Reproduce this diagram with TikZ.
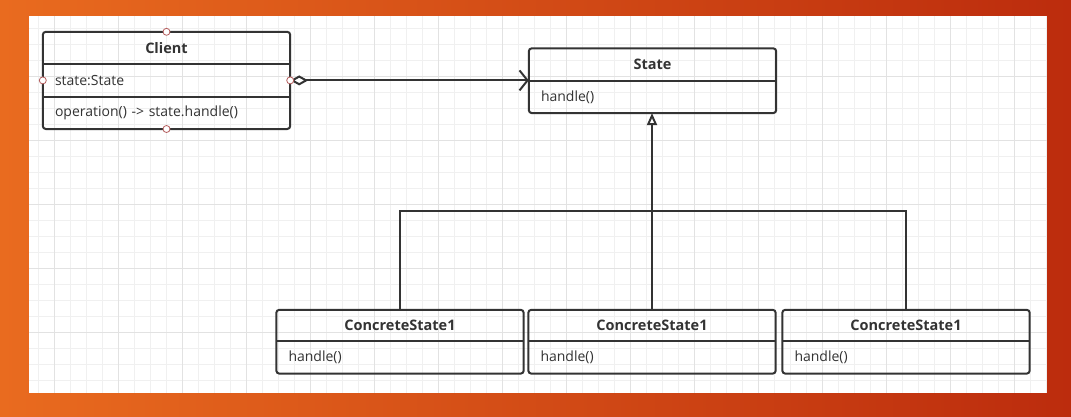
\documentclass[tikz,border=0pt]{standalone}
\usepackage{fontspec}
\setmainfont{Open Sans}
\usetikzlibrary{positioning,arrows.meta}

\definecolor{ink}{HTML}{333333}
\definecolor{bgorange}{HTML}{E96B1F}
\definecolor{bgred}{HTML}{BC2C0D}
\definecolor{gridminor}{HTML}{F0F0F0}
\definecolor{gridmajor}{HTML}{E2E2E2}
\definecolor{handlered}{HTML}{B45C5C}

\begin{document}
\begin{tikzpicture}[x=1pt, y=-1pt,
part/.style={minimum width=247pt, minimum height=32pt, inner sep=0pt, text=ink},
title/.style={part, font=\bfseries\fontsize{14.5}{16}\selectfont},
member/.style={part, font=\fontsize{14}{16}\selectfont, text width=223pt, inner xsep=12pt, align=left},
box/.style={draw=ink, line width=2pt, rounded corners=3pt},
divider/.style={draw=ink, line width=1.8pt},
conn/.style={draw=ink, line width=2pt},
handle/.style={circle, draw=handlered, fill=white, inner sep=0pt, minimum size=7pt, line width=0.8pt},
gridline/.style={draw=gridminor, line width=0.8pt},
gridbold/.style={draw=gridmajor, line width=0.9pt}]

%% local variables
\def \left {29}
\def \right {1047}
\def \top {16}
\def \bottom {393}

%% background and canvas
\shade[left color=bgorange, right color=bgred] (0,0) rectangle (1071,416);
\fill[white] (\left,\top) rectangle (\right,\bottom);

%% grid
\begin{scope}
\clip (\left,\top) rectangle (\right,\bottom);
\foreach \i in {0,...,65}
      \draw[gridline] ({6.7+16*\i},\top) -- ({6.7+16*\i},\bottom);
\foreach \j in {0,...,24}
      \draw[gridline] (\left,{12+16*\j}) -- (\right,{12+16*\j});
\foreach \i in {0,...,16}
      \draw[gridbold] ({54.7+64*\i},\top) -- ({54.7+64*\i},\bottom);
\foreach \j in {0,...,6}
      \draw[gridbold] (\left,{12+64*\j}) -- (\right,{12+64*\j});
\end{scope}

%% client class
\node[title] (client-t) at (166.5,48) {Client};
\node[member, below=0pt of client-t] (client-a) {state:State};
\node[member, below=0pt of client-a] (client-o) {operation() -> state.handle()};
\draw[box] (client-t.north west) rectangle (client-o.south east);
\draw[divider] (client-t.south west) -- (client-t.south east);
\draw[divider] (client-a.south west) -- (client-a.south east);

%% state interface
\node[title] (state-t) at (652.5,64.5) {State};
\node[member, below=0pt of state-t] (state-o) {handle()};
\draw[box] (state-t.north west) rectangle (state-o.south east);
\draw[divider] (state-t.south west) -- (state-t.south east);

%% concrete states
\foreach \s/\x in {1/400, 2/652, 3/906} {
      \node[title, minimum height=31pt] (cs-\s-t) at (\x,325.5) {ConcreteState1};
      \node[member, below=0pt of cs-\s-t] (cs-\s-o) {handle()};
      \draw[box] (cs-\s-t.north west) rectangle (cs-\s-o.south east);
      \draw[divider] (cs-\s-t.south west) -- (cs-\s-t.south east);
}

%% aggregation
\draw[conn, {Diamond[open, length=18pt, width=10pt]}-{Straight Barb[length=8pt, width=20pt]}]
      (client-a.east) -- (client-a.east -| state-t.south west);

%% inheritance
\coordinate (bus) at (652,211);
\draw[conn] (cs-1-t.north) |- (cs-3-t.north |- bus) -- (cs-3-t.north);
\draw[conn, -{Triangle[open, length=12pt, width=10pt]}] (cs-2-t.north) -- (cs-2-t.north |- state-o.south);

%% selection handles
\node[handle] (h-n) at (client-t.north) {};
\node[handle] (h-w) at (client-a.west) {};
\node[handle] (h-e) at (client-a.east) {};
\node[handle] (h-s) at (client-o.south) {};

\end{tikzpicture}
\end{document}
